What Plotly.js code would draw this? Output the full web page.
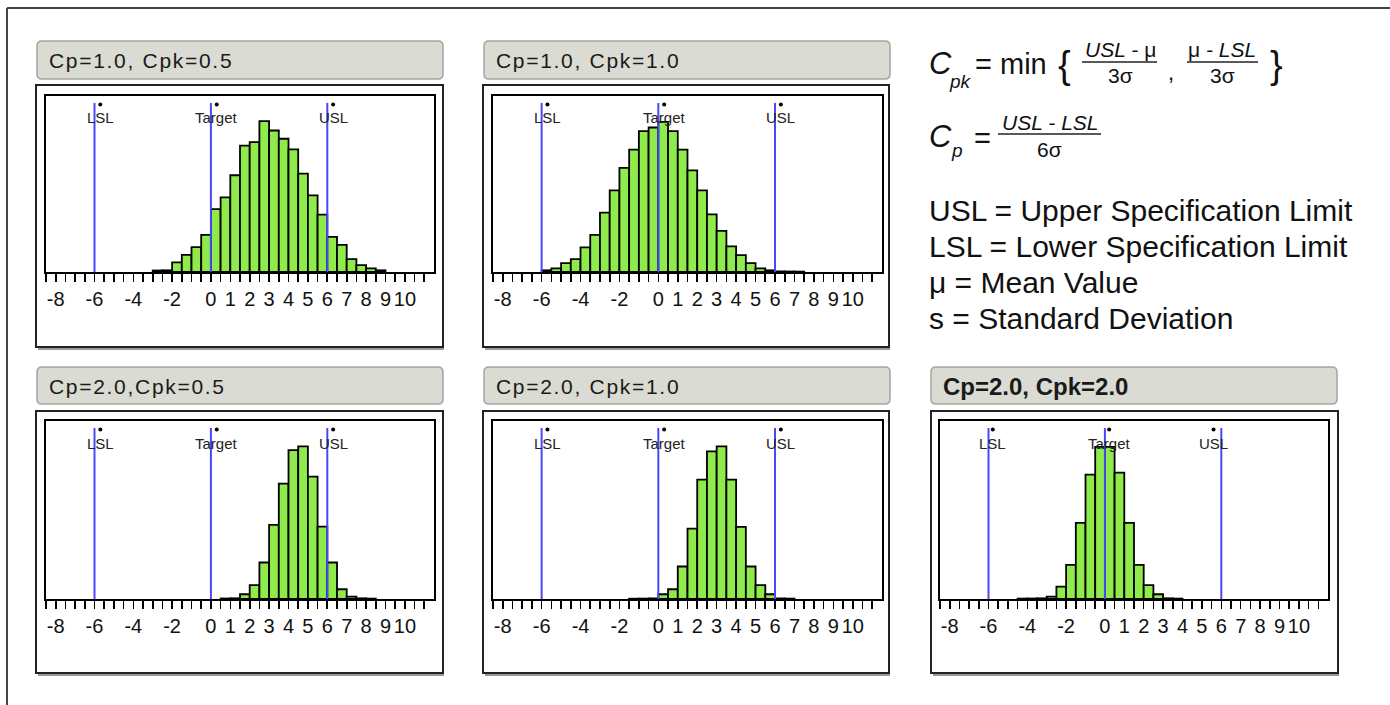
<!DOCTYPE html>
<html>
<head>
<meta charset="utf-8">
<script src="https://cdn.plot.ly/plotly-3.0.1.min.js"></script>
<style>html,body{margin:0;padding:0;background:#fff;}#chart{width:1390px;height:705px;}</style>
</head>
<body>
<div id="chart"></div>
<script>
// ---------------- DATA ----------------
const panelTitles = ['Cp=1.0, Cpk=0.5', 'Cp=1.0, Cpk=1.0', 'Cp=2.0,Cpk=0.5', 'Cp=2.0, Cpk=1.0', 'Cp=2.0, Cpk=2.0'];
const specNames = ['LSL', 'Target', 'USL'];
const specValues = [-6, 0, 6];
const tickLabelVals = [-8, -6, -4, -2, 0, 1, 2, 3, 4, 5, 6, 7, 8, 9, 10];
const binWidth = 0.5;

const binStart1 = -3.0;
const counts1 = [1.5, 1.7, 9.7, 17.3, 25, 37.3, 63.3, 75, 97.3, 127, 130.7, 151.7, 142.3, 134, 123.3, 99, 77, 57.7, 35.3, 27.3, 13, 7, 3.7, 1.7];
const binStart2 = -6.0;
const counts2 = [1.7, 3.7, 9, 13, 24.7, 37.3, 59.7, 82, 104.7, 123, 141.7, 145.3, 151, 141.7, 123, 102.3, 82, 58, 41.3, 25.7, 17, 9, 3.7, 1.7, 0.6, 0.5, 0.4];
const binStart3 = 0.5;
const counts3 = [0.5, 0.7, 4.7, 13.7, 36.3, 73.7, 114.7, 148, 151.7, 121.7, 72, 36.3, 9.7, 2.3, 0.7, 0.4];
const binStart4 = -1.5;
const counts4 = [0.3, 0.4, 0.6, 4.7, 9.7, 32.3, 70, 118.7, 146.7, 151.7, 118.7, 71.7, 32.3, 13.7, 4.7, 0.6, 0.4];
const binStart5 = -4.5;
const counts5 = [0.4, 0.5, 0.7, 2.3, 12.3, 34, 75.7, 123.7, 151.3, 151.3, 125.7, 75.7, 34, 13.7, 4.7, 0.7, 0.4];

const defLines = ['USL = Upper Specification Limit', 'LSL = Lower Specification Limit', 'μ = Mean Value', 's = Standard Deviation'];

// ---------------- LAYOUT HELPERS ----------------
const W = 1390, H = 705;
const X = v => v / W;
const Y = v => 1 - v / H;
const FONT = 'Liberation Sans, Arial, Helvetica, sans-serif';

const binStarts = [binStart1, binStart2, binStart3, binStart4, binStart5];
const binCounts = [counts1, counts2, counts3, counts4, counts5];

const panelPos = [{c: 0, r: 0}, {c: 1, r: 0}, {c: 0, r: 1}, {c: 1, r: 1}, {c: 2, r: 1}];
const colFrame = [[46, 434], [493, 882], [940, 1328]];
const rowFrame = [[96, 272], [421, 599]];
const colBox = [[36, 443], [483, 889], [931, 1338]];
const rowBox = [[85, 347], [411, 673]];
const colTitle = [[37, 443], [484, 890], [931, 1337]];
const rowTitle = [[41, 79], [367, 404]];
const labelOffsets = [[0.3, 0.3, 0.3], [0.3, 0.3, 0.3], [0.3, 0.3, 0.3], [0.3, 0.3, 0.3], [0.22, 0.22, -0.4]];
const YMAX = 177;

// tick positions every half unit
const tickVals = [], tickText = [];
for (let v = -8.5; v <= 11.001; v += 0.5) {
  tickVals.push(v);
  tickText.push(tickLabelVals.includes(v) ? String(v) : '');
}

const traces = [];
const layout = {
  width: W, height: H,
  margin: {l: 0, r: 0, t: 0, b: 0},
  paper_bgcolor: '#ffffff', plot_bgcolor: '#ffffff',
  showlegend: false,
  shapes: [], annotations: []
};

function rrectPath(x0, y0, x1, y1, r) {
  const P = (x, y) => X(x).toFixed(6) + ' ' + Y(y).toFixed(6);
  return 'M ' + P(x0 + r, y0) + ' L ' + P(x1 - r, y0) + ' Q ' + P(x1, y0) + ' ' + P(x1, y0 + r) +
    ' L ' + P(x1, y1 - r) + ' Q ' + P(x1, y1) + ' ' + P(x1 - r, y1) +
    ' L ' + P(x0 + r, y1) + ' Q ' + P(x0, y1) + ' ' + P(x0, y1 - r) +
    ' L ' + P(x0, y0 + r) + ' Q ' + P(x0, y0) + ' ' + P(x0 + r, y0) + ' Z';
}

panelPos.forEach((p, i) => {
  const n = i + 1;
  const xa = n === 1 ? 'x' : 'x' + n;
  const ya = n === 1 ? 'y' : 'y' + n;
  const xk = n === 1 ? 'xaxis' : 'xaxis' + n;
  const yk = n === 1 ? 'yaxis' : 'yaxis' + n;
  const cf = colFrame[p.c], rf = rowFrame[p.r];

  layout[xk] = {
    domain: [X(cf[0]), X(cf[1])], anchor: ya,
    range: [-8.5, 11.5], fixedrange: true,
    showline: true, linecolor: '#000', linewidth: 2, mirror: true,
    ticks: 'outside', ticklen: 8, tickwidth: 1.6, tickcolor: '#000',
    tickmode: 'array', tickvals: tickVals, ticktext: tickText, tickangle: 0,
    tickfont: {family: FONT, size: 20, color: '#111'},
    ticklabelstandoff: 0,
    showgrid: false, zeroline: false
  };
  layout[yk] = {
    domain: [Y(rf[1]), Y(rf[0])], anchor: xa,
    range: [0, YMAX], fixedrange: true,
    showline: true, linecolor: '#000', linewidth: 2, mirror: true,
    ticks: '', showticklabels: false, showgrid: false, zeroline: false
  };

  const counts = binCounts[i];
  const xs = counts.map((_, k) => binStarts[i] + k * binWidth + binWidth / 2);
  traces.push({
    type: 'bar', x: xs, y: counts, width: binWidth, xaxis: xa, yaxis: ya,
    marker: {color: '#8fea4c', line: {color: '#000', width: 1.8}},
    hoverinfo: 'skip'
  });

  // spec dots
  const dotX = specValues.map((v, k) => v + labelOffsets[i][k]);
  traces.push({
    type: 'scatter', mode: 'markers', x: dotX, y: specValues.map(() => 168.5),
    xaxis: xa, yaxis: ya, marker: {color: '#000', size: 4}, hoverinfo: 'skip', cliponaxis: false
  });
  specNames.forEach((nm, k) => {
    layout.annotations.push({
      xref: xa, yref: ya, x: dotX[k], y: 155, text: nm, showarrow: false,
      xanchor: 'center', yanchor: 'middle', font: {family: FONT, size: 15, color: '#222'}
    });
    layout.shapes.push({
      type: 'line', xref: xa, yref: ya, x0: specValues[k], x1: specValues[k], y0: 0, y1: 170,
      line: {color: '#4848f8', width: 2}, layer: 'above'
    });
  });

  // outer panel box with shadow
  const cb = colBox[p.c], rb = rowBox[p.r];
  layout.shapes.push({type: 'line', xref: 'paper', yref: 'paper', x0: X(cb[0] + 2), x1: X(cb[1] + 1), y0: Y(rb[1] + 2), y1: Y(rb[1] + 2), line: {color: '#9a9a9a', width: 2}, layer: 'below'});
  layout.shapes.push({type: 'rect', xref: 'paper', yref: 'paper', x0: X(cb[0]), x1: X(cb[1]), y0: Y(rb[1]), y1: Y(rb[0]), line: {color: '#222', width: 2}, layer: 'below'});

  // title bar
  const ct = colTitle[p.c], rt = rowTitle[p.r];
  layout.shapes.push({type: 'path', xref: 'paper', yref: 'paper', path: rrectPath(ct[0], rt[0], ct[1], rt[1], 5), fillcolor: '#dadbd3', line: {color: '#a4a69f', width: 1.5}, layer: 'below'});
  const bold = (i === 4);
  layout.annotations.push({
    xref: 'paper', yref: 'paper', x: X(ct[0] + 10), y: Y((rt[0] + rt[1]) / 2 + 0.5),
    text: bold ? '<b>' + panelTitles[i] + '</b>' : panelTitles[i],
    showarrow: false, xanchor: 'left', yanchor: 'middle', align: 'left',
    font: {family: FONT, size: bold ? 24 : 21, color: '#1a1a1a'}
  });
});

// figure border (top, left)
layout.shapes.push({type: 'line', xref: 'paper', yref: 'paper', x0: X(7), x1: X(1390), y0: Y(8), y1: Y(8), line: {color: '#444', width: 2}});
layout.shapes.push({type: 'line', xref: 'paper', yref: 'paper', x0: X(7), x1: X(7), y0: Y(8), y1: Y(705), line: {color: '#444', width: 2}});

// formula block
function ann(text, x, y, size, opts) {
  layout.annotations.push(Object.assign({
    xref: 'paper', yref: 'paper', x: X(x), y: Y(y), text: text, showarrow: false,
    xanchor: 'left', yanchor: 'middle', font: {family: FONT, size: size, color: '#111'}
  }, opts || {}));
}
function hline(x0, x1, y) {
  layout.shapes.push({type: 'line', xref: 'paper', yref: 'paper', x0: X(x0), x1: X(x1), y0: Y(y), y1: Y(y), line: {color: '#222', width: 1.4}});
}
// Cpk
ann('<i>C</i>', 927, 63, 31);
ann('<i>pk</i>', 947, 81, 19);
ann('= min', 973, 64, 29);
ann('{', 1064, 65, 38, {xanchor: 'center'});
ann('<i>USL - </i>μ', 1120, 50, 21, {xanchor: 'center'});
hline(1082, 1157, 62);
ann('3σ', 1120, 75, 21, {xanchor: 'center'});
ann(',', 1171, 72, 22, {xanchor: 'center'});
ann('μ<i> - LSL</i>', 1222, 50, 21, {xanchor: 'center'});
hline(1187, 1258, 62);
ann('3σ', 1222, 75, 21, {xanchor: 'center'});
ann('}', 1276, 65, 38, {xanchor: 'center'});
// Cp
ann('<i>C</i>', 927, 137, 31);
ann('<i>p</i>', 949, 151, 19);
ann('=', 972, 138, 29);
ann('<i>USL - LSL</i>', 1050, 122, 21, {xanchor: 'center'});
hline(998, 1101, 134);
ann('6σ', 1049, 150, 21, {xanchor: 'center'});
// definitions
const defY = [210, 246, 282.5, 318.5];
defLines.forEach((t, k) => ann(t, 927, defY[k], 30));

Plotly.newPlot('chart', traces, layout, {displayModeBar: false, staticPlot: true}).then(gd => {
  gd.querySelectorAll('text.annotation-text').forEach(t => {
    const s = t.textContent;
    if (s.startsWith('Cp=') && !s.startsWith('Cp=2.0, Cpk=2.0')) t.style.letterSpacing = '1.7px';
  });
});
</script>
</body>
</html>
